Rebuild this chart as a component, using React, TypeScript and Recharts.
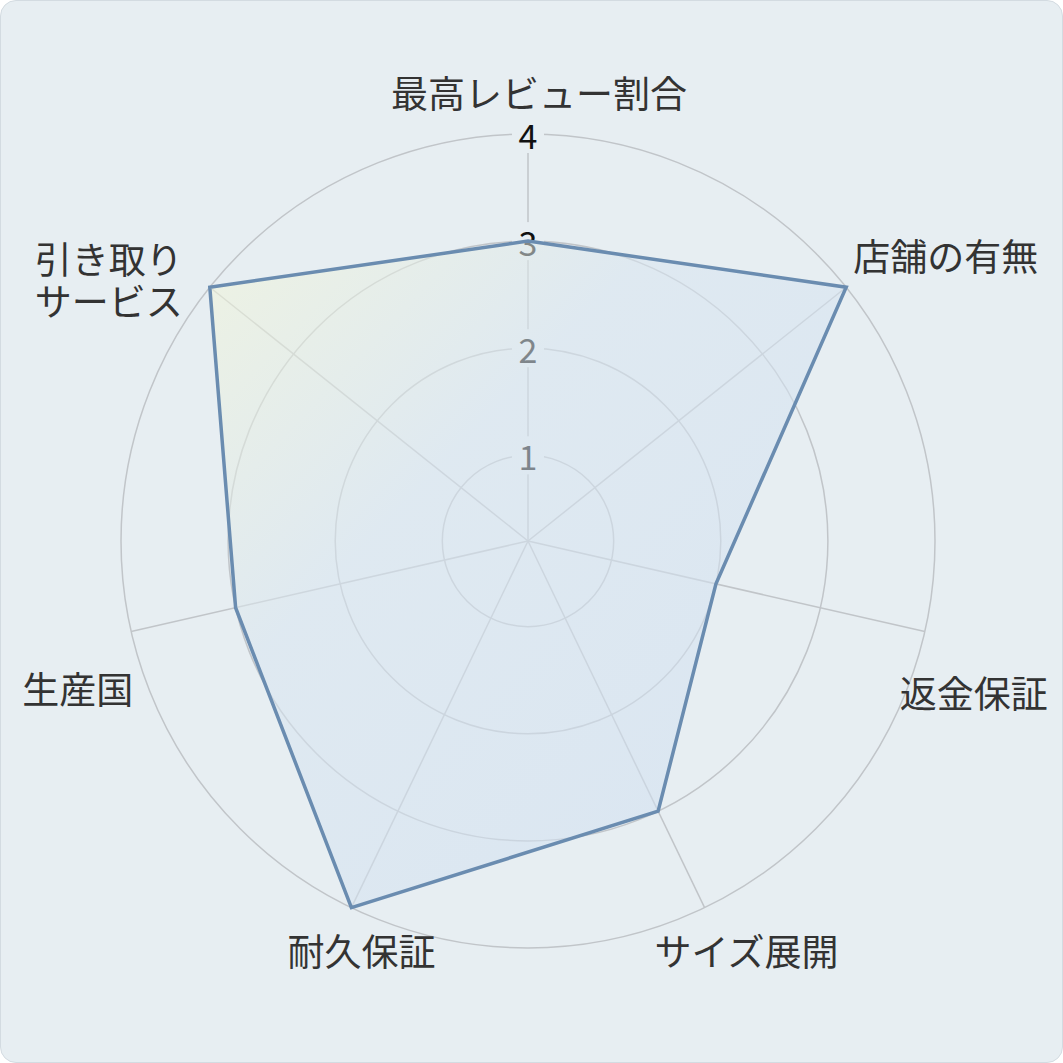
import React from 'react'
import {
  RadarChart,
  Radar,
  PolarGrid,
  PolarAngleAxis,
  PolarRadiusAxis,
} from 'recharts'

// ---- data ----
const categories = [
  '最高レビュー割合',
  '店舗の有無',
  '返金保証',
  'サイズ展開',
  '耐久保証',
  '生産国',
  '引き取り\nサービス',
]
const scores = [3, 4, 2, 3, 4, 3, 4]
const radiusTicks = [1, 2, 3, 4]

const data = categories.map((subject, i) => ({ subject, score: scores[i] }))

// ---- layout ----
const SIZE = 1063
const CX = 528
const CY = 541
const OUTER = 407
const BG = '#e7eef2'
const FONT = '"Noto Sans CJK JP", "Noto Sans", sans-serif'

// per-label placement relative to the axis end point (anchor, dx, dy of block centre)
const labelLayout: Array<{ anchor: 'start' | 'middle' | 'end'; dx: number; dy: number }> = [
  { anchor: 'middle', dx: 11, dy: -42 },
  { anchor: 'start', dx: 7, dy: -32 },
  { anchor: 'start', dx: -25, dy: 60 },
  { anchor: 'start', dx: -50, dy: 42 },
  { anchor: 'end', dx: 84, dy: 42 },
  { anchor: 'end', dx: 2, dy: 56 },
  { anchor: 'end', dx: -27, dy: -8 },
]

function AngleLabel(props: any) {
  const { payload, index } = props
  const deg = payload.coordinate
  const rad = (-deg * Math.PI) / 180
  const px = CX + OUTER * Math.cos(rad)
  const py = CY + OUTER * Math.sin(rad)
  const lay = labelLayout[index] ?? { anchor: 'middle', dx: 0, dy: 0 }
  const lines = String(payload.value).split('\n')
  const lineH = 42
  const x = px + lay.dx
  const yc = py + lay.dy
  return (
    <text textAnchor={lay.anchor} fontSize={37} fill="#333333" fontFamily={FONT}>
      {lines.map((ln, i) => (
        <tspan
          key={i}
          x={x}
          y={yc + (i - (lines.length - 1) / 2) * lineH}
          dominantBaseline="central"
        >
          {ln}
        </tspan>
      ))}
    </text>
  )
}

function RadiusLabel(props: any) {
  const { x, y, payload } = props
  return (
    <g>
      <rect x={x - 16} y={y - 19} width={32} height={38} fill={BG} />
      <text
        x={x}
        y={y}
        textAnchor="middle"
        dominantBaseline="central"
        fontSize={34}
        fill="#111111"
        fontFamily={FONT}
      >
        {payload.value}
      </text>
    </g>
  )
}

export default function App() {
  return (
    <div
      style={{
        width: SIZE,
        height: SIZE,
        boxSizing: 'border-box',
        background: BG,
        border: '1.5px solid #d3dbe1',
        borderRadius: 16,
        overflow: 'hidden',
        position: 'relative',
      }}
    >
      <style>{`body{margin:0}`}</style>
      <div style={{ position: 'absolute', left: -1.5, top: -1.5 }}>
        <RadarChart
          width={SIZE}
          height={SIZE}
          data={data}
          cx={CX}
          cy={CY}
          outerRadius={OUTER}
          margin={{ top: 0, right: 0, bottom: 0, left: 0 }}
        >
          <defs>
            <linearGradient id="radarFill" x1="0" y1="0" x2="1" y2="1">
              <stop offset="0%" stopColor="#f3f6d6" />
              <stop offset="35%" stopColor="#d8e5f0" />
              <stop offset="100%" stopColor="#cedef1" />
            </linearGradient>
          </defs>
          <PolarGrid gridType="circle" stroke="#c1c5c9" strokeWidth={1.5} />
          <PolarAngleAxis
            dataKey="subject"
            tick={<AngleLabel />}
            tickLine={false}
            axisLine={false}
          />
          <PolarRadiusAxis
            type="number"
            angle={90}
            domain={[0.2, 4]}
            allowDataOverflow
            allowDecimals
            tickCount={20}
            ticks={radiusTicks}
            tick={<RadiusLabel />}
            tickLine={false}
            axisLine={false}
            zIndex={50}
          />
          <Radar
            dataKey="score"
            stroke="#6a8cb0"
            strokeWidth={3.5}
            fill="url(#radarFill)"
            fillOpacity={0.55}
            dot={false}
            isAnimationActive={false}
          />
        </RadarChart>
      </div>
    </div>
  )
}
